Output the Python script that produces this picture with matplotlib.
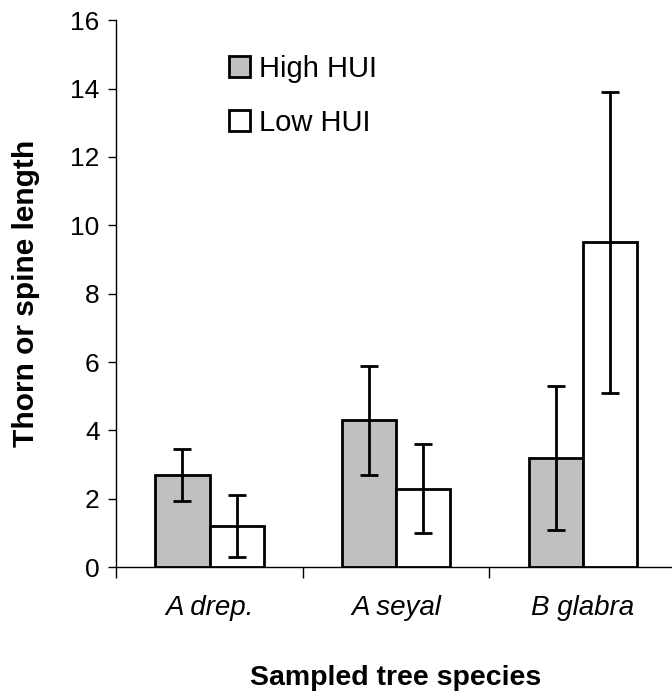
import numpy as np
import matplotlib.pyplot as plt
from matplotlib.ticker import FixedLocator

plt.rcParams['font.family'] = ['Liberation Sans', 'DejaVu Sans']

species = ['A drep.', 'A seyal', 'B glabra']
high_hui = [2.7, 4.3, 3.2]
high_err = [0.75, 1.6, 2.1]
low_hui = [1.2, 2.3, 9.5]
low_err = [0.9, 1.3, 4.4]

fig = plt.figure(figsize=(6.72, 6.96), dpi=100)
ax = fig.add_axes([0.173, 0.185, 0.83, 0.786])

x = np.arange(len(species))
w = 0.29
ekw = dict(elinewidth=2, capsize=6.5, capthick=2, ecolor='black')
ax.bar(x - w/2, high_hui, w, yerr=high_err, color='#c0c0c0', edgecolor='black',
       linewidth=2, error_kw=ekw, label='High HUI')
ax.bar(x + w/2, low_hui, w, yerr=low_err, color='white', edgecolor='black',
       linewidth=2, error_kw=ekw, label='Low HUI')

ax.set_xlim(-0.5, 2.49)
ax.set_ylim(0, 16)
ax.set_yticks(np.arange(0, 17, 2))
ax.set_xticks(x)
ax.set_xticklabels(species, fontsize=20, style='italic')
ax.xaxis.set_minor_locator(FixedLocator([-0.5, 0.5, 1.5]))
ax.tick_params(axis='x', which='major', length=0, pad=20)
ax.tick_params(axis='x', which='minor', length=8, width=1, direction='out')
ax.tick_params(axis='y', length=6, width=1, direction='out', labelsize=19, pad=6)

for s in ['top', 'right']:
    ax.spines[s].set_visible(False)
ax.spines['left'].set_linewidth(1)
ax.spines['bottom'].set_linewidth(1)

ax.set_ylabel('Thorn or spine length', fontsize=21.5, fontweight='bold', labelpad=22)
ax.set_xlabel('Sampled tree species', fontsize=20.5, fontweight='bold', labelpad=32)

ax.legend(loc='upper left', bbox_to_anchor=(0.155, 0.985), frameon=False,
          fontsize=21, handlelength=0.72, handleheight=0.72, handletextpad=0.3,
          labelspacing=0.9)

plt.savefig('out.png', dpi=100)
